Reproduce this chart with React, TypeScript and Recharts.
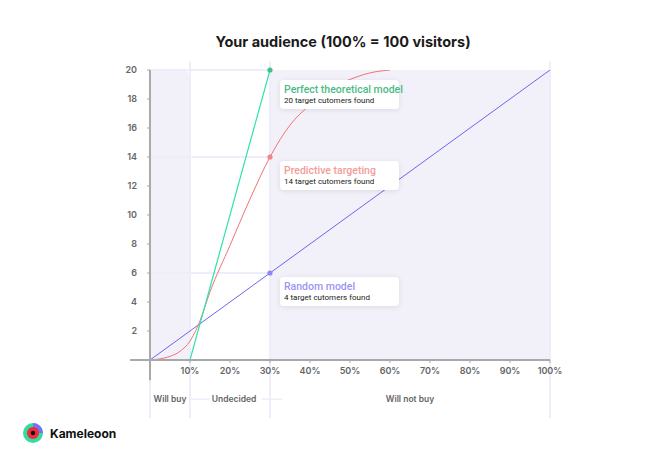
import { LineChart, Line, XAxis, YAxis, ReferenceArea, ReferenceLine, ReferenceDot, Rectangle } from "recharts"

// audience share (%) -> target customers found
const randomPct = [0, 100]
const randomVal = [0, 20]
const perfectPct = [10, 30]
const perfectVal = [0, 20]
const predictivePct = [0, 5, 7.5, 10, 12.5, 15, 20, 25, 30, 35, 40, 45, 50, 55, 60]
const predictiveVal = [0, 0.25, 0.6, 1.3, 2.7, 4.7, 7.9, 11.1, 14, 16.2, 17.6, 18.7, 19.35, 19.8, 20]

const xTicks = [10, 20, 30, 40, 50, 60, 70, 80, 90, 100]
const yTicks = [2, 4, 6, 8, 10, 12, 14, 16, 18, 20]
const zonePct = [5, 21, 65]
const zoneLabels = ["Will buy", "Undecided", "Will not buy"]

const calloutPct = [30, 30, 30]
const calloutVal = [20, 14, 6]
const calloutTitles = ["Perfect theoretical model", "Predictive targeting", "Random model"]
const calloutTexts = ["20 target cutomers found", "14 target cutomers found", "4 target cutomers found"]

const titleColors = ["#4cbb85", "#f39b99", "#9b96f6"]
const dotColors = ["#3cc58a", "#f28585", "#8d88f2"]
const boxGap = [10, 4, 4]

const toPoints = (xs: number[], ys: number[]) => xs.map((x, i) => ({ x, y: ys[i] }))
const randomData = toPoints(randomPct, randomVal)
const perfectData = toPoints(perfectPct, perfectVal)
const predictiveData = toPoints(predictivePct, predictiveVal)

const shade = "#f2f1fa"
const faint = "#eeedfa"
const axisGray = "#a9a9a9"
const tickFont = { fontSize: 9, fill: "#666", fontFamily: "Inter", fontWeight: 600 }

const makeCallout = (i: number) => (props: any) => {
  const { cx, cy } = props
  const left = cx + 10
  const top = cy + boxGap[i]
  const fid = `shadow-${i}`
  return (
    <g>
      <defs>
        <filter id={fid} x="-20%" y="-40%" width="140%" height="180%">
          <feDropShadow dx="0" dy="1" stdDeviation="2.5" floodColor="#000" floodOpacity="0.1" />
        </filter>
      </defs>
      <circle cx={cx} cy={cy} r={2.6} fill={dotColors[i]} />
      <rect x={left} y={top} width={119} height={29} rx={4} fill="#fff" filter={`url(#${fid})`} />
      <text x={left + 4} y={top + 13} fontFamily="Roboto" fontWeight={500} fontSize={10.5} fill={titleColors[i]}>
        {calloutTitles[i]}
      </text>
      <text x={left + 4} y={top + 23} fontFamily="Roboto" fontSize={8} fill="#222">
        {calloutTexts[i]}
      </text>
    </g>
  )
}

const makeZoneLabel = (i: number) => (props: any) => (
  <text
    x={props.cx}
    y={props.cy}
    textAnchor="middle"
    dominantBaseline="central"
    fontFamily="Inter"
    fontWeight={600}
    fontSize={8.5}
    fill="#666"
  >
    {zoneLabels[i]}
  </text>
)

const App: React.FC = () => {
  return (
    <div style={{ position: "absolute", left: 0, top: 0, width: 665, height: 460, background: "#fff" }}>
      <div
        style={{
          position: "absolute",
          top: 33,
          left: 0,
          width: 686,
          textAlign: "center",
          fontFamily: "Inter",
          fontWeight: 700,
          fontSize: 14.5,
          color: "#1a1a1a",
        }}
      >
        Your audience (100% = 100 visitors)
      </div>
      <LineChart
        width={665}
        height={460}
        margin={{ top: 70, right: 115, left: 120, bottom: 70 }}
      >
        <ReferenceArea
          x1={0}
          x2={10}
          y1={0}
          y2={20}
          fill={shade}
          fillOpacity={1}
          shape={(p: any) => <Rectangle {...p} radius={[0, 8, 0, 0]} />}
        />
        <ReferenceArea x1={30} x2={100} y1={0} y2={20} fill={shade} fillOpacity={1} />
        <ReferenceLine segment={[{ x: 0, y: 20 }, { x: 30, y: 20 }]} stroke={faint} strokeWidth={2} />
        <ReferenceLine segment={[{ x: 0, y: 14 }, { x: 30, y: 14 }]} stroke={faint} strokeWidth={2} />
        <ReferenceLine segment={[{ x: 0, y: 6 }, { x: 30, y: 6 }]} stroke={faint} strokeWidth={2} />
        <ReferenceLine segment={[{ x: 10, y: -4 }, { x: 10, y: 20.6 }]} stroke={faint} strokeWidth={2} ifOverflow="visible" />
        <ReferenceLine segment={[{ x: 30, y: -4 }, { x: 30, y: 20.6 }]} stroke={faint} strokeWidth={2} ifOverflow="visible" />
        <ReferenceLine segment={[{ x: 100, y: -4 }, { x: 100, y: 20.6 }]} stroke={faint} strokeWidth={2} ifOverflow="visible" />
        <ReferenceLine segment={[{ x: 0, y: -1.4 }, { x: 0, y: -4 }]} stroke={faint} strokeWidth={2} ifOverflow="visible" />
        <ReferenceLine segment={[{ x: 10, y: -2.7 }, { x: 15, y: -2.7 }]} stroke={faint} strokeWidth={1.5} ifOverflow="visible" />
        <ReferenceLine segment={[{ x: 28, y: -2.7 }, { x: 33, y: -2.7 }]} stroke={faint} strokeWidth={1.5} ifOverflow="visible" />
        <ReferenceLine segment={[{ x: -5, y: 0 }, { x: 0, y: 0 }]} stroke={axisGray} strokeWidth={2} ifOverflow="visible" />
        <ReferenceLine segment={[{ x: 0, y: 0 }, { x: 0, y: -1.4 }]} stroke={axisGray} strokeWidth={2} ifOverflow="visible" />
        <XAxis
          dataKey="x"
          type="number"
          domain={[0, 100]}
          ticks={xTicks}
          tickFormatter={(v: number) => `${v}%`}
          axisLine={{ stroke: axisGray, strokeWidth: 2 }}
          tickLine={{ stroke: axisGray }}
          tickSize={3}
          tickMargin={5}
          tick={tickFont}
          height={30}
          allowDataOverflow
        />
        <YAxis
          dataKey="y"
          type="number"
          domain={[0, 20]}
          ticks={yTicks}
          axisLine={{ stroke: axisGray, strokeWidth: 2 }}
          tickLine={{ stroke: axisGray }}
          tickSize={3}
          tickMargin={10}
          tick={tickFont}
          width={30}
          allowDataOverflow
        />
        <Line data={randomData} dataKey="y" type="linear" stroke="#6b65f0" strokeWidth={1} dot={false} isAnimationActive={false} />
        <Line data={predictiveData} dataKey="y" type="monotone" stroke="#f27474" strokeWidth={1} dot={false} isAnimationActive={false} />
        <Line data={perfectData} dataKey="y" type="linear" stroke="#2ee3a8" strokeWidth={1.2} dot={false} isAnimationActive={false} />
        {zonePct.map((x, i) => (
          <ReferenceDot key={`z${i}`} x={x} y={-2.7} r={0} shape={makeZoneLabel(i)} ifOverflow="visible" />
        ))}
        {calloutPct.map((x, i) => (
          <ReferenceDot key={i} x={x} y={calloutVal[i]} r={2.6} shape={makeCallout(i)} ifOverflow="visible" />
        ))}
      </LineChart>
      <div style={{ position: "absolute", left: 22, top: 421, display: "flex", alignItems: "center" }}>
        <svg width={24} height={24} viewBox="0 0 24 24">
          <circle cx={11} cy={12} r={10} fill="#35dba0" />
          <path d="M11 12 L11 2 A10 10 0 0 1 21 12 Z" fill="#7b6ff2" />
          <circle cx={11} cy={12} r={6} fill="#ee2d3b" />
          <circle cx={11} cy={12} r={2.2} fill="#111" />
        </svg>
        <span style={{ marginLeft: 4, fontFamily: "Inter", fontWeight: 700, fontSize: 12, color: "#111" }}>
          Kameleoon
        </span>
      </div>
    </div>
  )
}

export default App
